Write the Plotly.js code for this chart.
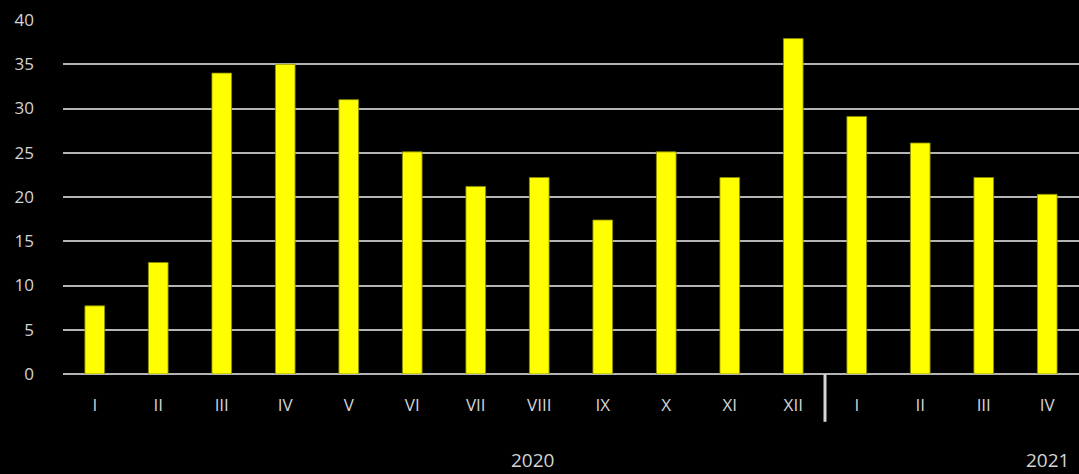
<!DOCTYPE html>
<html>
<head>
<meta charset="utf-8">
<script src="https://cdn.plot.ly/plotly-3.0.1.min.js"></script>
<style>html,body{margin:0;padding:0;background:#000;}#chart{width:1079px;height:474px;}</style>
</head>
<body>
<div id="chart"></div>
<script>
const months = ["I","II","III","IV","V","VI","VII","VIII","IX","X","XI","XII","I","II","III","IV"];
const years = ["2020","2020","2020","2020","2020","2020","2020","2020","2020","2020","2020","2020","2021","2021","2021","2021"];
const values = [7.7, 12.6, 34.0, 35.0, 31.0, 25.1, 21.2, 22.2, 17.4, 25.1, 22.2, 37.9, 29.1, 26.1, 22.2, 20.3];
const yearLabels = ["2020", "2021"];
const yearLabelPos = [6.9, 15.0];

const keys = months.map((m, i) => m + " " + years[i]);

const trace = {
  type: "bar",
  x: keys,
  y: values,
  marker: {color: "#ffff00", line: {color: "#8a8a00", width: 0.8}},
  width: 0.31,
  hoverinfo: "x+y"
};

const textColor = "#d4d4d4";
const fontFam = "'Open Sans', 'Noto Sans', sans-serif";
const layout = {
  width: 1079, height: 474,
  paper_bgcolor: "#000", plot_bgcolor: "#000",
  margin: {l: 63, r: 0, t: 20, b: 99.5},
  showlegend: false,
  font: {family: fontFam, color: textColor, size: 18},
  xaxis: {
    type: "category",
    tickvals: keys, ticktext: months,
    range: [-0.5, 15.5],
    showgrid: false, zeroline: false, showline: false,
    ticks: "", ticklabelstandoff: 19,
    tickfont: {family: fontFam, size: 17, color: textColor}
  },
  yaxis: {
    range: [0, 40], dtick: 5,
    showgrid: true, gridcolor: "#b4b4b4", gridwidth: 2,
    zeroline: true, zerolinecolor: "#b4b4b4", zerolinewidth: 2,
    showline: false, ticks: "", ticklabelstandoff: 28,
    tickfont: {family: fontFam, size: 17, color: textColor}
  },
  shapes: [{
    type: "line", xref: "x", yref: "paper",
    x0: 11.5, x1: 11.5, y0: 0, y1: -0.135,
    line: {color: "#d4d4d4", width: 3}
  }],
  annotations: yearLabels.map((t, i) => ({
    text: t, xref: "x", yref: "paper", x: yearLabelPos[i], y: -0.243,
    xanchor: "center", yanchor: "middle", showarrow: false,
    font: {family: fontFam, size: 19, color: textColor}
  }))
};

Plotly.newPlot("chart", [trace], layout, {displayModeBar: false, staticPlot: true});
</script>
</body>
</html>
